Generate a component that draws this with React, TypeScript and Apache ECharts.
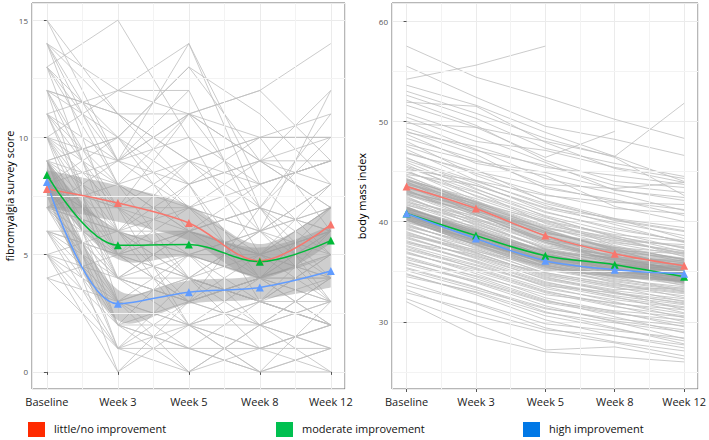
import React, { useEffect, useRef } from "react";
import * as echarts from "echarts";

const timePoints = ["Baseline", "Week 3", "Week 5", "Week 8", "Week 12"];
const groupNames = ["little/no improvement", "moderate improvement", "high improvement"];
const lineColors = ["#F8766D", "#00BA38", "#619CFF"];
const legendColors = ["#FF2A00", "#00C050", "#0078E6"];

// fibromyalgia survey score: group means and confidence limits
const fibroMeans = [
  [7.8, 7.2, 6.35, 4.74, 6.28],
  [8.4, 5.4, 5.43, 4.7, 5.6],
  [8.1, 2.9, 3.4, 3.6, 4.3],
];
const fibroLower = [
  [7.0, 6.4, 5.6, 4.0, 5.5],
  [7.8, 4.8, 4.9, 4.1, 4.95],
  [7.5, 2.2, 2.9, 3.1, 3.6],
];
const fibroUpper = [
  [8.6, 7.95, 7.1, 5.45, 7.1],
  [9.0, 6.0, 6.0, 5.3, 6.25],
  [8.7, 3.5, 3.9, 4.1, 4.95],
];

// body mass index: group means and confidence limits
const bmiMeans = [
  [43.5, 41.3, 38.6, 36.8, 35.6],
  [40.8, 38.6, 36.6, 35.7, 34.5],
  [40.8, 38.3, 36.1, 35.2, 34.8],
];
const bmiLower = [
  [42.7, 40.6, 37.9, 36.1, 34.8],
  [40.1, 37.9, 35.9, 35.0, 33.8],
  [40.1, 37.6, 35.4, 34.5, 34.0],
];
const bmiUpper = [
  [44.3, 42.0, 39.3, 37.5, 36.4],
  [41.5, 39.3, 37.3, 36.4, 35.2],
  [41.5, 39.0, 36.8, 35.9, 35.6],
];

// individual fibromyalgia trajectories
const fibroIndividuals: (number | null)[][] = [
  [15, 9, 7, 6, 5], [15, 11, 8, 9, 7], [14, 12, 12, null, null], [14, 6, 4, 3, 2],
  [14, 8, 11, 9, 8], [13, 15, 10, 8, 9], [13, 5, 4, 6, 3], [13, 9, 14, 7, 6],
  [12, 7, 5, 4, 3], [12, 11, 11, 10, 10], [12, 3, 2, 1, 2], [11, 8, 6, 5, 7],
  [11, 12, 14, 8, 9], [11, 4, 3, 2, 1], [10, 9, 11, 12, 14], [10, 6, 7, 5, 6],
  [10, 2, 1, 0, 1], [10, 7, 9, 6, 12], [9, 5, 5, 4, 4], [9, 8, 6, 7, 6],
  [9, 3, 4, 3, 2], [9, 6, 2, 3, 5], [9, 10, 8, 9, 9], [9, 1, 0, 2, 3],
  [8, 7, 7, 6, 7], [8, 4, 5, 3, 4], [8, 6, 4, 5, 8], [8, 2, 3, 4, 2],
  [8, 9, 10, 5, 6], [8, 5, 6, 7, 5], [8, 3, 1, 1, 0], [8, 0, 2, 0, 1],
  [7, 6, 5, 5, 6], [7, 4, 3, 4, 5], [7, 8, 9, 7, 11], [7, 2, 2, 3, 3],
  [7, 5, 7, 4, 4], [7, 3, 0, 1, 2], [7, 7, 6, 8, 9], [6, 5, 4, 3, 5],
  [6, 1, 2, 2, 3], [6, 6, 8, 4, 6], [6, 3, 5, 2, 4], [6, 4, 3, 5, 7],
  [5, 2, 1, 3, 2], [5, 4, 6, 5, 4], [5, 0, 3, 4, 5], [5, 6, 5, 6, 8],
  [4, 3, 2, 1, 1], [4, 1, 4, 3, 2], [4, 5, 3, 4, 3], [10, 12, 11, 9, 10],
  [12, 10, 13, 11, 8], [14, 11, 9, 10, 11], [11, 9, 12, 6, 7], [9, 7, 11, 12, 9],
  [13, 8, 7, 9, 12], [8, 10, 7, 8, 9], [10, 8, 4, 6, 8], [7, 6, 3, 7, 4],
  [9, 4, 2, 0, 3], [6, 2, 0, 2, 1], [8, 1, 3, 2, 0], [5, 3, 4, 1, 2],
  [11, 5, 8, 3, 6], [12, 6, 9, 8, 5], [10, 4, 6, 7, 10], [9, 2, 5, 6, 4],
  [8, 7, 2, 4, 7], [7, 9, 8, 10, 6], [12, 11, 9, 10, 10], [6, 5, 6, 4, 2],
  [5, 1, 1, 0, 0], [14, 9, 11, 7, 3], [13, 10, 6, 5, 4], [9, 10, 13, 9, 7],
  [11, 7, 4, 2, 4], [10, 5, 3, 4, 6], [8, 6, 6, 5, 3], [7, 4, 4, 3, 2],
];

// individual body mass index trajectories
const bmiIndividuals: (number | null)[][] = [
  [57.5, 54.4, 52.4, 50.2, 48.3], [55.5, 52.4, 49.5, 48.2, 46.6], [54.2, 55.6, 57.5, null, null],
  [53.6, 51.6, 48.9, 46.5, 44.0], [53.0, 50.8, 48.3, 46.4, 42.6], [52.1, 49.6, 46.1, 44.0, 43.4],
  [51.9, 51.5, 47.9, 45.3, 43.9], [51.6, 49.4, 48.0, 46.5, 51.8], [50.8, 48.5, 45.9, 43.1, 42.4],
  [50.0, 47.2, 44.3, 42.8, 41.1], [49.8, 49.4, 46.4, 49.0, null], [49.0, 46.7, 43.3, 42.2, 40.6],
  [48.7, 45.8, 44.6, 41.5, 40.0], [48.3, 46.2, 43.7, 43.3, 43.9], [48.0, 44.6, 42.1, 40.3, 38.3],
  [47.5, 45.2, 42.0, 40.1, 39.0], [47.2, 44.1, 41.6, 39.7, 37.9], [46.8, 45.0, 43.5, 42.0, 41.2],
  [46.4, 43.3, 40.5, 38.4, 36.7], [46.1, 43.8, 41.0, 39.2, 38.1], [45.7, 42.5, 40.2, 37.6, 36.2],
  [45.4, 43.0, 39.8, 38.0, 36.9], [45.1, 42.1, 39.2, 37.1, 35.5], [44.9, 42.9, 40.6, 38.9, 37.3],
  [44.6, 41.6, 38.5, 36.4, 35.0], [44.3, 41.9, 39.5, 37.5, 36.2], [44.0, 40.7, 37.9, 36.1, 34.4],
  [43.8, 41.5, 38.8, 37.8, 36.6], [43.5, 40.9, 38.2, 36.0, 35.8], [43.2, 40.1, 37.2, 35.4, 33.9],
  [43.0, 41.2, 39.0, 37.2, 35.3], [42.8, 40.4, 37.6, 36.6, 35.0], [42.5, 39.6, 36.9, 35.1, 34.2],
  [42.3, 40.0, 37.8, 35.9, 34.8], [42.0, 39.3, 36.5, 35.0, 33.6], [41.8, 39.8, 37.3, 36.2, 35.6],
  [41.5, 38.7, 36.0, 34.5, 33.0], [41.3, 39.2, 36.8, 35.3, 34.0], [41.0, 38.4, 35.7, 34.2, 33.5],
  [40.8, 38.9, 36.4, 35.7, 34.9], [40.6, 38.0, 35.5, 33.9, 32.4], [40.4, 38.5, 36.1, 34.8, 33.8],
  [40.2, 37.6, 35.2, 34.0, 33.1], [40.0, 37.9, 35.9, 35.2, 34.6], [39.8, 37.3, 34.8, 33.5, 32.0],
  [39.6, 37.7, 35.4, 34.3, 33.3], [39.4, 36.9, 34.5, 32.9, 31.8], [39.2, 37.4, 35.1, 34.6, 34.0],
  [39.0, 36.6, 34.2, 33.0, 31.2], [38.8, 36.9, 34.6, 33.4, 32.6], [38.5, 36.3, 34.0, 32.5, 30.9],
  [38.3, 36.5, 34.9, 33.8, 33.0], [38.0, 35.9, 33.5, 32.0, 30.4], [37.8, 36.1, 33.9, 32.8, 31.9],
  [37.5, 35.3, 33.1, 31.6, 30.0], [37.3, 35.6, 33.6, 32.9, 32.1], [37.0, 34.8, 32.4, 31.0, 29.5],
  [36.8, 35.2, 33.0, 31.8, 31.2], [36.5, 34.5, 32.2, 30.5, 28.9], [36.2, 34.6, 32.7, 31.9, 30.8],
  [36.0, 33.9, 31.6, 30.0, 28.3], [35.7, 34.0, 31.9, 30.8, 30.2], [35.4, 33.5, 31.0, 29.4, 27.8],
  [35.1, 33.2, 31.3, 30.3, 29.6], [34.8, 32.7, 30.2, 28.6, 27.4], [34.5, 33.0, 30.9, 29.9, 29.0],
  [34.0, 31.8, 29.4, 28.0, 27.1], [33.6, 31.9, 29.8, 29.1, 28.4], [33.2, 30.6, 28.9, 27.9, 26.6],
  [32.9, 31.1, 29.2, 28.6, 27.7], [32.3, 29.8, 27.2, 27.5, 26.3], [32.0, 28.6, 27.0, 26.5, 26.0],
  [44.7, 43.6, 41.4, 40.3, 39.4], [43.3, 41.8, 40.1, 38.7, 38.0], [42.6, 41.0, 39.4, 38.3, 37.5],
  [41.9, 40.6, 38.9, 37.4, 36.9], [46.9, 44.8, 42.7, 41.3, 40.8], [45.2, 44.1, 42.6, 41.9, 41.7],
  [47.7, 46.0, 44.9, 43.2, 42.1], [48.9, 47.5, 45.4, 44.6, 43.7], [50.4, 48.0, 47.1, 45.4, 44.3],
  [49.3, 47.1, 45.6, 43.6, 42.9], [52.6, 50.3, 47.3, 45.8, 44.5], [40.9, 39.1, 37.0, 36.4, 36.1],
  [39.9, 38.2, 36.3, 35.6, 35.3], [38.9, 37.0, 35.6, 34.4, 34.1], [37.9, 36.7, 34.4, 33.2, 33.4],
  [44.1, 42.3, 40.0, 38.6, 37.0], [43.7, 42.0, 39.6, 38.4, 36.5], [42.2, 40.3, 38.3, 37.0, 36.3],
  [41.2, 39.5, 37.4, 36.7, 35.9], [42.9, 41.4, 39.3, 38.1, 37.7], [41.6, 40.2, 38.1, 37.1, 36.8],
  [40.5, 38.8, 37.1, 36.0, 35.4], [39.5, 37.8, 36.2, 35.4, 34.3], [38.6, 37.2, 35.3, 34.9, 34.5],
  [46.3, 44.0, 41.8, 40.2, 39.1], [45.9, 43.2, 40.9, 39.4, 38.0], [45.5, 43.6, 41.3, 39.9, 38.6],
  [45.0, 42.6, 40.4, 38.5, 37.4], [44.5, 42.0, 39.9, 38.2, 36.8], [44.2, 41.4, 39.0, 37.3, 36.0],
  [43.9, 41.7, 39.4, 37.9, 37.1], [43.6, 41.1, 38.6, 36.9, 35.6], [43.1, 40.6, 38.1, 36.4, 35.4],
  [42.7, 40.2, 37.9, 36.5, 35.9], [42.4, 39.9, 37.3, 35.8, 34.9], [42.1, 39.7, 37.5, 36.3, 35.7],
  [41.7, 39.4, 37.0, 35.6, 34.5], [41.4, 39.0, 36.6, 35.2, 34.4], [41.1, 38.6, 36.2, 34.9, 33.9],
  [40.7, 38.3, 36.0, 34.6, 33.7], [40.3, 38.1, 35.8, 34.5, 34.1], [40.1, 37.7, 35.6, 34.7, 34.2],
  [39.7, 37.5, 35.3, 34.1, 33.2], [39.3, 37.1, 34.9, 33.7, 32.9], [38.7, 36.8, 34.7, 33.6, 32.8],
  [38.4, 36.4, 34.3, 33.1, 32.3], [38.1, 36.0, 33.8, 32.6, 31.7], [37.6, 35.7, 33.7, 32.4, 31.5],
  [37.2, 35.4, 33.3, 32.2, 31.4], [36.9, 35.0, 32.9, 31.5, 30.6], [36.4, 34.3, 32.1, 30.9, 29.8],
  [35.9, 34.1, 32.0, 31.1, 30.5], [35.3, 33.4, 31.4, 30.1, 29.2], [34.7, 32.9, 30.6, 29.3, 28.1],
];

const FONT = "'Open Sans', 'Noto Sans', sans-serif";
const SMOOTH = 0.35;

// Build an SVG path through pixel points using the same kind of smoothing as ECharts lines
function smoothSegments(pts: number[][], first: boolean): string {
  const n = pts.length;
  let d = first ? `M${pts[0][0]},${pts[0][1]}` : `L${pts[0][0]},${pts[0][1]}`;
  const cpsOut: number[][] = [];
  const cpsIn: number[][] = [];
  for (let i = 0; i < n; i++) {
    if (i === 0 || i === n - 1) {
      cpsOut.push(pts[i]);
      cpsIn.push(pts[i]);
      continue;
    }
    const p = pts[i], a = pts[i - 1], b = pts[i + 1];
    const vx = b[0] - a[0], vy = b[1] - a[1];
    const d0 = Math.hypot(p[0] - a[0], p[1] - a[1]);
    const d1 = Math.hypot(b[0] - p[0], b[1] - p[1]);
    const r1 = d1 / (d0 + d1), r0 = d0 / (d0 + d1);
    cpsOut.push([p[0] + vx * SMOOTH * r1, p[1] + vy * SMOOTH * r1]);
    cpsIn.push([p[0] - vx * SMOOTH * r0, p[1] - vy * SMOOTH * r0]);
  }
  for (let i = 1; i < n; i++) {
    const c1 = cpsOut[i - 1], c2 = cpsIn[i], p = pts[i];
    d += ` C${c1[0]},${c1[1]} ${c2[0]},${c2[1]} ${p[0]},${p[1]}`;
  }
  return d;
}

function buildPanel(
  gi: number,
  individuals: (number | null)[][],
  means: number[][],
  lower: number[][],
  upper: number[][]
) {
  const series: any[] = [];
  individuals.forEach((row, k) => {
    series.push({
      type: "line",
      xAxisIndex: gi,
      yAxisIndex: gi,
      data: row.map((v, i) => [i, v]),
      symbol: "none",
      silent: true,
      lineStyle: { color: "#BEBEBE", width: 0.8 },
      z: 2,
      name: "ind" + gi + "_" + k,
    });
  });
  means.forEach((m, g) => {
    const lo = lower[g];
    const hi = upper[g];
    series.push({
      type: "custom",
      xAxisIndex: gi,
      yAxisIndex: gi,
      data: [[0, lo[0]]],
      silent: true,
      z: 3,
      renderItem: (params: any, api: any) => {
        const up = hi.map((v, i) => api.coord([i, v]));
        const dn = lo.map((v, i) => api.coord([i, v])).reverse();
        const d = smoothSegments(up, true) + " " + smoothSegments(dn, false) + " Z";
        return {
          type: "path",
          shape: { pathData: d },
          style: { fill: "rgba(153,153,153,0.48)", stroke: "none" },
        };
      },
    });
  });
  means.forEach((m, g) => {
    series.push({
      type: "line",
      name: groupNames[g],
      xAxisIndex: gi,
      yAxisIndex: gi,
      data: m.map((v, i) => [i, v]),
      smooth: SMOOTH,
      symbol: "triangle",
      symbolSize: 8,
      showAllSymbol: true,
      lineStyle: { color: lineColors[g], width: 1.5 },
      itemStyle: { color: lineColors[g] },
      z: 5,
    });
  });
  return series;
}

export default function App() {
  const ref = useRef<HTMLDivElement>(null);
  useEffect(() => {
    if (!ref.current) return;
    const chart = echarts.init(ref.current, null, { renderer: "svg" });
    const gridBase = { top: 3, height: 386, show: true, borderColor: "#6e6e6e", borderWidth: 1, backgroundColor: "#fff" };
    const xAxisBase = (gi: number) => ({
      type: "value",
      gridIndex: gi,
      min: -0.21,
      max: 4.2,
      splitNumber: 4,
      axisLine: { show: false },
      axisTick: { show: true, length: 3, lineStyle: { color: "#555" } },
      axisLabel: {
        showMinLabel: false,
        showMaxLabel: false,
        color: "#222",
        fontSize: 11,
        fontFamily: FONT,
        margin: 7,
        formatter: (v: number) => (Math.abs(v - Math.round(v)) < 1e-6 ? timePoints[Math.round(v)] || "" : ""),
      },
      splitLine: { show: true, lineStyle: { color: "#EBEBEB", width: 1 } },
    });
    const yAxisBase = (gi: number, min: number, max: number, splitNumber: number, name: string, nameGap: number) => ({
      type: "value",
      gridIndex: gi,
      min,
      max,
      splitNumber,
      name,
      nameLocation: "middle",
      nameGap,
      nameRotate: 90,
      nameTextStyle: { color: "#000", fontSize: 11, fontFamily: FONT },
      axisLine: { show: false },
      axisTick: { show: true, length: 3, lineStyle: { color: "#555" } },
      axisLabel: { showMinLabel: false, showMaxLabel: false, color: "#555", fontSize: 8, fontFamily: FONT, margin: 4 },
      splitLine: { show: true, lineStyle: { color: "#EBEBEB", width: 1 } },
    });

    const minorLines = (gi: number, ys: number[]) => ({
      type: "line",
      xAxisIndex: gi,
      yAxisIndex: gi,
      data: [],
      silent: true,
      z: 1,
      markLine: {
        silent: true,
        symbol: "none",
        label: { show: false },
        lineStyle: { color: "#F3F3F3", width: 1, type: "solid" },
        data: [
          ...ys.map((y) => ({ yAxis: y })),
          ...[0.5, 1.5, 2.5, 3.5].map((x) => ({ xAxis: x })),
        ],
      },
    });

    const series = [
      minorLines(0, [2.5, 7.5, 12.5]),
      minorLines(1, [25, 35, 45, 55]),
      ...buildPanel(0, fibroIndividuals, fibroMeans, fibroLower, fibroUpper),
      ...buildPanel(1, bmiIndividuals, bmiMeans, bmiLower, bmiUpper),
    ];

    const legendX = [28, 276, 523];
    const graphic: any[] = [];
    groupNames.forEach((n, g) => {
      graphic.push({
        type: "rect",
        left: legendX[g],
        top: 422,
        shape: { width: 17, height: 15 },
        style: { fill: legendColors[g] },
      });
      graphic.push({
        type: "text",
        left: legendX[g] + 26,
        top: 423,
        style: { text: n, fill: "#111", font: `11px ${FONT}` },
      });
    });

    chart.setOption({
      animation: false,
      backgroundColor: "#fff",
      grid: [
        { ...gridBase, left: 32, width: 313 },
        { ...gridBase, left: 392, width: 312 },
      ],
      xAxis: [xAxisBase(0), xAxisBase(1)],
      yAxis: [
        yAxisBase(0, -0.73, 15.73, 3, "fibromyalgia survey score", 13),
        yAxisBase(1, 23.3, 61.8, 4, "body mass index", 25),
      ],
      series,
      graphic,
    });
    return () => chart.dispose();
  }, []);
  return <div ref={ref} style={{ width: 709, height: 440, position: "absolute", left: 0, top: 0 }} />;
}
